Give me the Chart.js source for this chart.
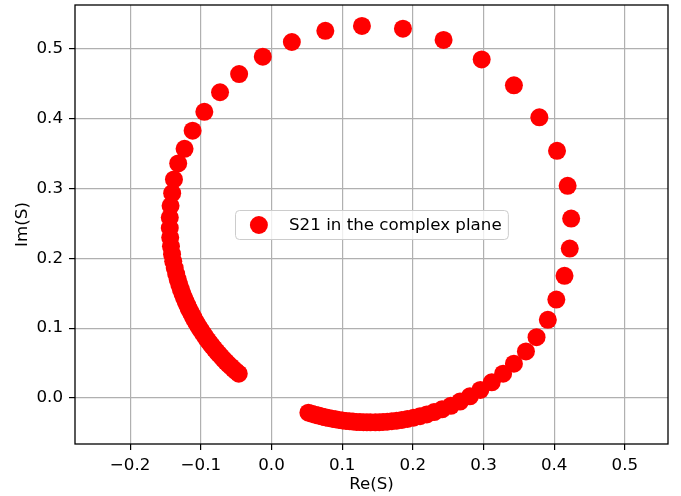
<!DOCTYPE html>
<html>
<head>
<meta charset="utf-8">
<script src="https://cdn.jsdelivr.net/npm/chart.js@4.4.1/dist/chart.umd.min.js"></script>
<style>
    html, body { margin: 0; padding: 0; background: #fff; }
    canvas { display: block; }
</style>
</head>
<body>
<canvas id="myChart" width="681" height="496"></canvas>
<script>
// S21 samples (bottom end -> right -> top -> left end)
const reS = [
    0.0522, 0.0570, 0.0617, 0.0665, 0.0713, 0.0761, 0.0810, 0.0858, 0.0907, 0.0956,
    0.1005, 0.1054, 0.1103, 0.1152, 0.1202, 0.1251, 0.1301, 0.1350, 0.1400, 0.1469,
    0.1524, 0.1578, 0.1638, 0.1702, 0.1771, 0.1844, 0.1923, 0.2010, 0.2101, 0.2197,
    0.2301, 0.2413, 0.2537, 0.2667, 0.2807, 0.2955, 0.3116, 0.3277, 0.343, 0.360,
    0.375, 0.391, 0.403, 0.4146, 0.422, 0.424, 0.419, 0.404, 0.379, 0.343,
    0.2974, 0.2435, 0.186, 0.128, 0.0762, 0.0288, -0.0123, -0.0458, -0.0728, -0.095,
    -0.1116, -0.123, -0.132, -0.138, -0.1405, -0.1428, -0.1439, -0.1439, -0.1433, -0.1422,
    -0.1407, -0.1390, -0.1369, -0.1348, -0.1327, -0.1304, -0.1282, -0.1259, -0.1237, -0.1214,
    -0.1192, -0.1172, -0.1153, -0.1130, -0.1107, -0.1084, -0.1059, -0.1034, -0.1008, -0.0982,
    -0.0954, -0.0927, -0.0898, -0.0868, -0.0838, -0.0807, -0.0775, -0.0743, -0.0710, -0.0677,
    -0.0643, -0.0608, -0.0573, -0.0537, -0.0500, -0.0463
];
const imS = [
    -0.0211, -0.0226, -0.0240, -0.0253, -0.0266, -0.0277, -0.0288, -0.0298, -0.0307, -0.0315,
    -0.0322, -0.0329, -0.0334, -0.0339, -0.0343, -0.0346, -0.0348, -0.0349, -0.0350, -0.0349,
    -0.0347, -0.0344, -0.0340, -0.0334, -0.0326, -0.0315, -0.0301, -0.0284, -0.0262, -0.0236,
    -0.0203, -0.0163, -0.0113, -0.0052, 0.0023, 0.0114, 0.0223, 0.0347, 0.049, 0.0666,
    0.087, 0.112, 0.141, 0.175, 0.214, 0.257, 0.304, 0.354, 0.402, 0.448,
    0.485, 0.513, 0.529, 0.533, 0.526, 0.510, 0.489, 0.464, 0.438, 0.410,
    0.383, 0.357, 0.336, 0.313, 0.2934, 0.2752, 0.2584, 0.2435, 0.2297, 0.2173,
    0.2060, 0.1958, 0.1861, 0.1774, 0.1698, 0.1622, 0.1556, 0.1491, 0.1435, 0.1380,
    0.1330, 0.1285, 0.1245, 0.1201, 0.1157, 0.1113, 0.1070, 0.1027, 0.0985, 0.0943,
    0.0902, 0.0861, 0.0821, 0.0781, 0.0741, 0.0703, 0.0664, 0.0627, 0.0590, 0.0553,
    0.0517, 0.0482, 0.0447, 0.0413, 0.0380, 0.0347
];
const xTicks = [-0.2, -0.1, 0.0, 0.1, 0.2, 0.3, 0.4, 0.5];
const yTicks = [0.0, 0.1, 0.2, 0.3, 0.4, 0.5];
const seriesLabel = 'S21 in the complex plane';

const FONT = 'DejaVu Sans';
const FONT_SIZE = 16.7;

function tickText(v) {
    return (v < 0 ? '\u2212' : '') + Math.abs(v).toFixed(1);
}

// matplotlib-ish frame and centred legend
const frameAndLegend = {
    id: 'frameAndLegend',
    afterDraw(chart) {
        const { ctx, chartArea: a } = chart;
        ctx.save();
        ctx.font = FONT_SIZE + 'px "' + FONT + '"';
        const tw = ctx.measureText(seriesLabel).width;
        const w = 53.5 + tw + 6.7, h = 29;
        const x0 = Math.round((a.left + a.right) / 2 - w / 2) + 0.5;
        const y0 = Math.round((a.top + a.bottom) / 2 - h / 2) + 0.5;
        ctx.beginPath();
        ctx.roundRect(x0, y0, w, h, 4);
        ctx.fillStyle = 'rgba(255,255,255,0.8)';
        ctx.fill();
        ctx.strokeStyle = '#cccccc';
        ctx.lineWidth = 1;
        ctx.stroke();
        ctx.beginPath();
        ctx.arc(x0 + 23.4, y0 + h / 2, 9, 0, Math.PI * 2);
        ctx.fillStyle = '#ff0000';
        ctx.fill();
        ctx.fillStyle = '#000';
        ctx.textBaseline = 'middle';
        ctx.fillText(seriesLabel, x0 + 53.5, y0 + h / 2 + 1);

        ctx.strokeStyle = '#000';
        ctx.lineWidth = 1.3;
        ctx.strokeRect(a.left, a.top, a.right - a.left, a.bottom - a.top);
        ctx.restore();
    }
};

const font = { family: FONT, size: FONT_SIZE };

const chartSettings = {
    type: 'scatter',
    data: {
        datasets: [{
            label: seriesLabel,
            data: reS.map((x, i) => ({ x: x, y: imS[i] })),
            pointRadius: 9,
            pointHoverRadius: 9,
            pointBackgroundColor: '#ff0000',
            pointBorderWidth: 0,
            showLine: false
        }]
    },
    options: {
        responsive: false,
        animation: false,
        layout: { autoPadding: false, padding: { left: 0, right: 13, top: 5, bottom: 0 } },
        plugins: { legend: { display: false }, tooltip: { enabled: false } },
        scales: {
            x: {
                type: 'linear',
                min: -0.278,
                max: 0.561,
                afterBuildTicks: s => { s.ticks = xTicks.map(v => ({ value: v })); },
                afterFit: s => { s.height = 52; s.paddingLeft = 0; s.paddingRight = 0; },
                ticks: { callback: tickText, color: '#000', font: font, padding: 6, maxRotation: 0, autoSkip: false },
                grid: { color: '#b0b0b0', lineWidth: 1.2, tickLength: 6, tickColor: '#000', tickWidth: 1.2 },
                border: { display: false },
                title: { display: true, text: 'Re(S)', color: '#000', font: font, padding: { top: 0, bottom: 1 } }
            },
            y: {
                type: 'linear',
                min: -0.066,
                max: 0.563,
                afterBuildTicks: s => { s.ticks = yTicks.map(v => ({ value: v })); },
                afterFit: s => { s.width = 75; s.paddingTop = 0; s.paddingBottom = 0; },
                ticks: { callback: tickText, color: '#000', font: font, padding: 6, autoSkip: false },
                grid: { color: '#b0b0b0', lineWidth: 1.2, tickLength: 6, tickColor: '#000', tickWidth: 1.2 },
                border: { display: false },
                title: { display: true, text: 'Im(S)', color: '#000', font: font, padding: { top: 13, bottom: 0 } }
            }
        }
    },
    plugins: [frameAndLegend]
};

new Chart(document.getElementById('myChart').getContext('2d'), chartSettings);
</script>
</body>
</html>
